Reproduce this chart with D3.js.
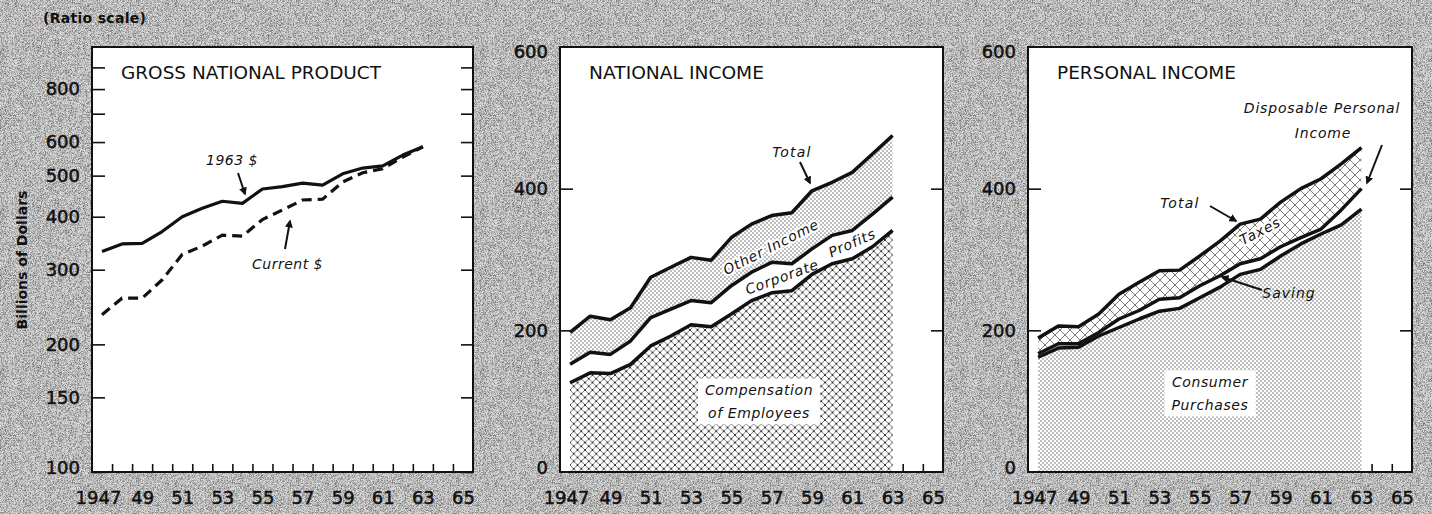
<!DOCTYPE html>
<html>
<head>
<meta charset="utf-8">
<script src="https://cdn.jsdelivr.net/npm/d3@7"></script>
<style>
  html, body { margin: 0; padding: 0; background: #c8c8c8; }
  svg { display: block; }
  text { font-family: "DejaVu Sans", Lato, sans-serif; fill: #111; }
</style>
</head>
<body>
<svg id="chart" width="1432" height="514"></svg>
<script>
// years plotted (each value sits in the middle of its year)
var years = [1947, 1948, 1949, 1950, 1951, 1952, 1953, 1954, 1955, 1956, 1957, 1958, 1959, 1960, 1961, 1962, 1963];
var yearTickBounds = [1948, 1949, 1950, 1951, 1952, 1953, 1954, 1955, 1956, 1957, 1958, 1959, 1960, 1961, 1962, 1963, 1964, 1965];
var yearLabels = ['1947', '49', '51', '53', '55', '57', '59', '61', '63', '65'];

// ratio scale ticks, gross national product panel
var gnpTickLabels = [100, 150, 200, 300, 400, 500, 600, 800];
var gnpTickMinor = [700, 900];
// linear ticks, income panels
var incomeTickLabels = [0, 200, 400, 600];
var incomeTickMarks = [200, 400];

// Gross national product, billions
var gnpConstant = [331, 345, 346, 369, 400, 419, 435, 430, 465, 471, 480, 475, 505, 521, 527, 559, 585];
var gnpCurrent  = [235, 257, 257, 284, 326, 341, 362, 360, 394, 415, 438, 440, 483, 508, 519, 553, 585];

// National income components, billions
var compensation     = [126, 140, 139, 152, 178, 192, 208, 205, 223, 242, 253, 256, 279, 294, 301, 318, 341];
var corporateProfits = [26, 29, 27, 33, 40, 38, 34, 34, 40, 40, 43, 38, 36, 40, 40, 46, 47];
var otherIncome      = [45, 51, 49, 47, 57, 59, 61, 60, 68, 68, 66, 72, 82, 75, 82, 85, 87];

// Personal income components, billions
var consumerPurchases = [162, 175, 176, 192, 204, 216, 227, 231, 246, 261, 279, 286, 305, 322, 336, 349, 371];
var saving            = [5, 6, 5, 5, 12, 12, 17, 15, 17, 16, 15, 15, 13, 9, 7, 21, 29];
var personalTaxes     = [22, 25, 24, 26, 35, 40, 40, 39, 42, 49, 56, 56, 63, 69, 71, 65, 58];

var W = 1432, H = 514;
var frameTop = 47, frameBottom = 472;
var panels = [
  {left: 92, right: 473},
  {left: 560, right: 943},
  {left: 1028, right: 1412}
];

var svg = d3.select('#chart');
var defs = svg.append('defs');

// grainy grey paper
var grain = defs.append('filter').attr('id', 'grain')
  .attr('x', 0).attr('y', 0).attr('width', '100%').attr('height', '100%');
grain.append('feTurbulence').attr('type', 'fractalNoise')
  .attr('baseFrequency', 1.6).attr('numOctaves', 1).attr('seed', 5);
grain.append('feColorMatrix').attr('type', 'matrix')
  .attr('values', '0 0 0 0 0  0 0 0 0 0  0 0 0 0 0  1.3 0 0 0 -0.5');

svg.append('rect').attr('width', W).attr('height', H).attr('fill', '#d9d9d9');
svg.append('rect').attr('width', W).attr('height', H).attr('filter', 'url(#grain)');

// fill patterns
var stipple = defs.append('pattern').attr('id', 'stipple')
  .attr('patternUnits', 'userSpaceOnUse').attr('width', 4).attr('height', 4);
stipple.append('rect').attr('width', 4).attr('height', 4).attr('fill', '#fff');
stipple.append('circle').attr('cx', 1).attr('cy', 1).attr('r', 0.65).attr('fill', '#444');
stipple.append('circle').attr('cx', 3).attr('cy', 3).attr('r', 0.65).attr('fill', '#444');

var hatch = defs.append('pattern').attr('id', 'hatch')
  .attr('patternUnits', 'userSpaceOnUse').attr('width', 7.5).attr('height', 7.5);
hatch.append('rect').attr('width', 7.5).attr('height', 7.5).attr('fill', '#fff');
hatch.append('path').attr('d', 'M0,0L7.5,7.5M7.5,0L0,7.5')
  .attr('stroke', '#333').attr('stroke-width', 0.7);
[[3.75, 3.75], [0, 0], [7.5, 0], [0, 7.5], [7.5, 7.5]].forEach(function(p) {
  hatch.append('circle').attr('cx', p[0]).attr('cy', p[1]).attr('r', 0.85).attr('fill', '#111');
});

var bigHatch = defs.append('pattern').attr('id', 'bighatch')
  .attr('patternUnits', 'userSpaceOnUse').attr('width', 10).attr('height', 10);
bigHatch.append('rect').attr('width', 10).attr('height', 10).attr('fill', '#fff');
bigHatch.append('path').attr('d', 'M0,0L10,10M10,0L0,10')
  .attr('stroke', '#444').attr('stroke-width', 0.7);

defs.append('marker').attr('id', 'arrow')
  .attr('viewBox', '0 0 10 10').attr('refX', 8).attr('refY', 5)
  .attr('markerWidth', 4).attr('markerHeight', 4).attr('orient', 'auto')
  .append('path').attr('d', 'M0,0L10,5L0,10z').attr('fill', '#111');

// shared frame, x axis and labels for one panel
function drawFrame(p, y, tickLabels, tickMarks, tickFmt) {
  var x = d3.scaleLinear().domain([1947, 1966]).range([p.left, p.right]);
  svg.append('rect')
    .attr('x', p.left).attr('y', frameTop)
    .attr('width', p.right - p.left).attr('height', frameBottom - frameTop)
    .attr('fill', '#fff');

  var lo = tickLabels[0], hi = tickLabels[tickLabels.length - 1];
  var gl = svg.append('g').attr('transform', 'translate(' + p.left + ',0)')
    .call(d3.axisLeft(y).tickValues(tickLabels).tickSize(0).tickPadding(12).tickFormat(tickFmt));
  gl.selectAll('text').attr('font-size', 18).attr('stroke', '#111').attr('stroke-width', 0.5)
    .style('font-family', '"DejaVu Sans", sans-serif')
    // end labels sit a little inside the frame corners
    .attr('y', function(d) { return d === lo ? -4 : (d === hi && y(hi) - frameTop < 4 ? 5 : 0); });
  gl.select('.domain').remove();

  var gi = svg.append('g').attr('transform', 'translate(' + p.left + ',0)')
    .call(d3.axisLeft(y).tickValues(tickMarks).tickSize(-13).tickFormat(''));
  var gr = svg.append('g').attr('transform', 'translate(' + p.right + ',0)')
    .call(d3.axisRight(y).tickValues(tickMarks).tickSize(-12).tickFormat(''));
  var gb = svg.append('g').attr('transform', 'translate(0,' + frameBottom + ')')
    .call(d3.axisBottom(x).tickValues(yearTickBounds).tickSize(-8).tickFormat(''));
  [gi, gr, gb].forEach(function(g) {
    g.select('.domain').remove();
    g.selectAll('line').attr('stroke', '#111').attr('stroke-width', 1.6);
  });

  var yl = svg.append('g').attr('transform', 'translate(0,' + frameBottom + ')')
    .call(d3.axisBottom(x)
      .tickValues(yearLabels.map(function(l, i) { return 1947.5 + 2 * i; }))
      .tickSize(0).tickPadding(19)
      .tickFormat(function(d, i) { return yearLabels[i]; }));
  yl.select('.domain').remove();
  yl.selectAll('text').attr('font-size', 18).attr('stroke', '#111').attr('stroke-width', 0.5)
    .style('font-family', '"DejaVu Sans", sans-serif')
    .attr('x', function(d, i) { return i === 0 ? -4 : 0; });

  return x;
}

function drawBorder(p) {
  svg.append('rect')
    .attr('x', p.left).attr('y', frameTop)
    .attr('width', p.right - p.left).attr('height', frameBottom - frameTop)
    .attr('fill', 'none').attr('stroke', '#111').attr('stroke-width', 2);
}

function title(p, str, len) {
  svg.append('text').attr('x', p.left + 29).attr('y', 79)
    .attr('font-size', 17).attr('textLength', len).attr('lengthAdjust', 'spacingAndGlyphs')
    .text(str);
}

function note(x, y, str, opts) {
  opts = opts || {};
  var t = svg.append('text')
    .attr('x', x).attr('y', y)
    .attr('font-size', opts.size || 14)
    .attr('font-style', 'italic')
    .attr('letter-spacing', opts.spacing != null ? opts.spacing : 0.6)
    .attr('text-anchor', opts.anchor || 'middle')
    .attr('dy', '0.35em')
    .text(str);
  if (opts.rotate) t.attr('transform', 'rotate(' + opts.rotate + ',' + x + ',' + y + ')');
  if (opts.halo) t.attr('stroke', '#fff').attr('stroke-width', 4).attr('paint-order', 'stroke');
  return t;
}

function arrow(x1, y1, x2, y2) {
  svg.append('line')
    .attr('x1', x1).attr('y1', y1).attr('x2', x2).attr('y2', y2)
    .attr('stroke', '#111').attr('stroke-width', 2)
    .attr('marker-end', 'url(#arrow)');
}

function whiteBox(nodes, pad) {
  var b = nodes.map(function(n) { return n.node().getBBox(); });
  var x0 = d3.min(b, function(d) { return d.x; }) - pad;
  var x1 = d3.max(b, function(d) { return d.x + d.width; }) + pad;
  var y0 = d3.min(b, function(d) { return d.y; }) - pad / 2;
  var y1 = d3.max(b, function(d) { return d.y + d.height; }) + pad / 2;
  svg.insert('rect', function() { return nodes[0].node(); })
    .attr('x', x0).attr('y', y0).attr('width', x1 - x0).attr('height', y1 - y0)
    .attr('fill', '#fff');
}

// ---------- panel 1: gross national product (ratio scale) ----------
var p1 = panels[0];
var yGnp = d3.scaleLog().domain([100, 1000]).range([frameBottom, 48]);
var xGnp = drawFrame(p1, yGnp, gnpTickLabels, gnpTickLabels.concat(gnpTickMinor), d3.format('d'));

var gnpLine = function(vals) {
  return d3.line()
    .x(function(d, i) { return xGnp(years[i] + 0.5); })
    .y(function(d) { return yGnp(d); })(vals);
};
svg.append('path').attr('d', gnpLine(gnpCurrent))
  .attr('fill', 'none').attr('stroke', '#111').attr('stroke-width', 3.2)
  .attr('stroke-dasharray', '10,6');
svg.append('path').attr('d', gnpLine(gnpConstant))
  .attr('fill', 'none').attr('stroke', '#111').attr('stroke-width', 3.2)
  .attr('stroke-linejoin', 'round');
drawBorder(p1);
title(p1, 'GROSS NATIONAL PRODUCT', 260);
note(232, 160, '1963 $', {spacing: 0.5});
arrow(238, 173, 245, 194);
note(252, 264, 'Current $', {anchor: 'start', spacing: 0.5});
arrow(285, 249, 290, 221);

svg.append('text').attr('x', 43).attr('y', 23)
  .attr('font-size', 14).attr('font-weight', 'bold').attr('letter-spacing', 0.3)
  .text('(Ratio scale)');
svg.append('text')
  .attr('transform', 'translate(27,260) rotate(-90)')
  .attr('text-anchor', 'middle').attr('font-size', 14).attr('font-weight', 'bold')
  .text('Billions of Dollars');

// ---------- stacked income panels ----------
var yInc = d3.scaleLinear().domain([0, 600]).range([frameBottom, frameTop]);

function stackPanel(p, series, keys, fills) {
  var x = drawFrame(p, yInc, incomeTickLabels, incomeTickMarks, d3.format('d'));
  var rows = years.map(function(yr, i) {
    var r = {year: yr};
    keys.forEach(function(k, j) { r[k] = series[j][i]; });
    return r;
  });
  var layers = d3.stack().keys(keys)(rows);
  var area = d3.area()
    .x(function(d) { return x(d.data.year + 0.5); })
    .y0(function(d) { return yInc(d[0]); })
    .y1(function(d) { return yInc(d[1]); });
  var line = d3.line()
    .x(function(d) { return x(d.data.year + 0.5); })
    .y(function(d) { return yInc(d[1]); });
  layers.forEach(function(l, i) {
    if (fills[i]) svg.append('path').attr('d', area(l)).attr('fill', fills[i]);
  });
  layers.forEach(function(l) {
    svg.append('path').attr('d', line(l))
      .attr('fill', 'none').attr('stroke', '#111').attr('stroke-width', 3.5)
      .attr('stroke-linejoin', 'round');
  });
  drawBorder(p);
  return x;
}

// ---------- panel 2: national income ----------
var p2 = panels[1];
stackPanel(p2, [compensation, corporateProfits, otherIncome],
  ['compensation', 'profits', 'other'], ['url(#hatch)', null, 'url(#stipple)']);
title(p2, 'NATIONAL INCOME', 175);
note(792, 152, 'Total', {spacing: 1.2});
arrow(800, 162, 810, 183);
note(771, 247, 'Other Income', {rotate: -27, halo: true, spacing: 0.8});
note(782, 277, 'Corporate', {rotate: -20, spacing: 0.8});
note(852, 243, 'Profits', {rotate: -24, spacing: 0.8});
var c1 = note(759, 390, 'Compensation', {spacing: 0.6});
var c2 = note(759, 413, 'of Employees', {spacing: 0.6});
whiteBox([c1, c2], 7);

// ---------- panel 3: personal income ----------
var p3 = panels[2];
stackPanel(p3, [consumerPurchases, saving, personalTaxes],
  ['consumer', 'saving', 'taxes'], ['url(#stipple)', null, 'url(#bighatch)']);
title(p3, 'PERSONAL INCOME', 179);
note(1180, 203, 'Total', {spacing: 1.2});
arrow(1210, 206, 1236, 221);
note(1322, 108, 'Disposable Personal', {spacing: 0.8});
note(1323, 133, 'Income', {spacing: 0.8});
arrow(1382, 145, 1367, 183);
note(1260, 231, 'Taxes', {rotate: -27, halo: true, spacing: 0.8});
note(1289, 293, 'Saving', {spacing: 1});
arrow(1262, 290, 1222, 277);
var k1 = note(1210, 382, 'Consumer', {spacing: 0.6});
var k2 = note(1210, 405, 'Purchases', {spacing: 0.6});
whiteBox([k1, k2], 7);
</script>
</body>
</html>
